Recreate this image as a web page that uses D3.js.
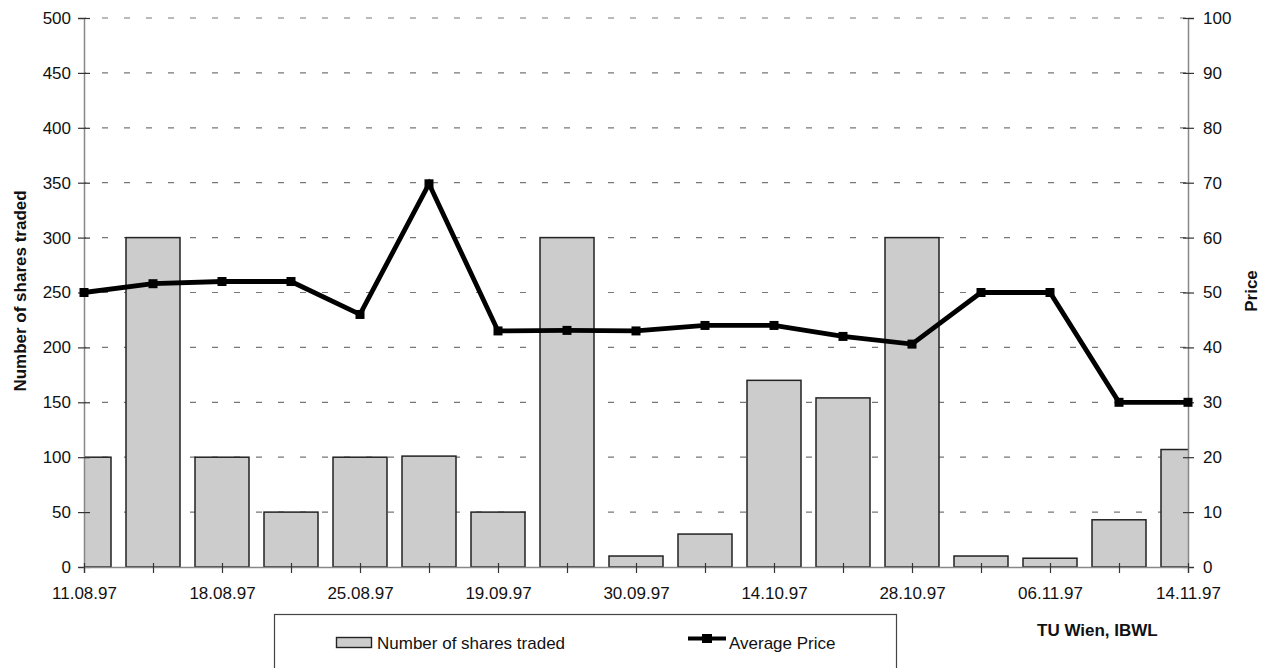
<!DOCTYPE html>
<html><head><meta charset="utf-8">
<script src="https://cdn.jsdelivr.net/npm/d3@7"></script>
<style>body{margin:0;background:#fff}svg{display:block;font-family:"Liberation Sans",Arial,sans-serif}</style>
</head><body><svg id="c" width="1268" height="668"></svg>
<script>
const categories = ["11.08.97","","18.08.97","","25.08.97","","19.09.97","","30.09.97","","14.10.97","","28.10.97","","06.11.97","","14.11.97"];
const shares = [100,300,100,50,100,101,50,300,10,30,170,154,300,10,8,43,107];
const price = [50,51.6,52,52,46,69.8,43,43.1,43,44,44,42,40.6,50,50,30,30];
const leftTicks = [0,50,100,150,200,250,300,350,400,450,500];
const rightTicks = [0,10,20,30,40,50,60,70,80,90,100];

const svg = d3.select("#c");
const L=84,R=1188,T=18,B=567;
const FS=17;
const x = d3.scalePoint().domain(d3.range(categories.length)).range([L,R]);
const yL = d3.scaleLinear().domain([0,500]).range([B,T]);
const yR = d3.scaleLinear().domain([0,100]).range([B,T]);
const bw = 54;

svg.append("defs").append("clipPath").attr("id","pc").append("rect")
  .attr("x",L).attr("y",T-5).attr("width",R-L).attr("height",B-T+5);

// gridlines
svg.append("g").selectAll("line").data(leftTicks.filter(d=>d>0)).join("line")
  .attr("x1",L+1).attr("x2",R-1).attr("y1",d=>yL(d)).attr("y2",d=>yL(d))
  .attr("stroke","#777").attr("stroke-width",1.2).attr("stroke-dasharray","6,16").attr("stroke-dashoffset",-17);

// bars
svg.append("g").attr("clip-path","url(#pc)").selectAll("rect").data(shares).join("rect")
  .attr("x",(d,i)=>x(i)-bw/2).attr("width",bw)
  .attr("y",d=>yL(d)).attr("height",d=>B-yL(d))
  .attr("fill","#cccccc").attr("stroke","#222").attr("stroke-width",1.5);

// axes
const axL = svg.append("g").attr("transform",`translate(${L},0)`).call(d3.axisLeft(yL).tickValues(leftTicks).tickSize(6).tickPadding(7));
const axR = svg.append("g").attr("transform",`translate(${R},0)`).call(d3.axisRight(yR).tickValues(rightTicks).tickSize(6).tickPadding(9));
const axB = svg.append("g").attr("transform",`translate(0,${B})`).call(d3.axisBottom(x).tickFormat(i=>categories[i]).tickSize(6).tickPadding(14));
[axL,axR,axB].forEach(a=>{
  a.select(".domain").attr("stroke","#888").attr("stroke-width",1.5);
  a.selectAll(".tick line").attr("stroke","#333").attr("stroke-width",1.2);
  a.selectAll(".tick text").attr("font-size",FS).attr("fill","#111").attr("font-family","Liberation Sans, Arial, sans-serif");
});
axL.selectAll(".tick line").attr("x2",-6).attr("x1",6);
axR.selectAll(".tick line").attr("x1",-5).attr("x2",6);
axB.selectAll(".tick line").attr("y1",-4).attr("y2",6);

// price line
const line = d3.line().x((d,i)=>x(i)).y(d=>yR(d));
svg.append("path").datum(price).attr("d",line).attr("fill","none").attr("stroke","#000").attr("stroke-width",4.8).attr("stroke-linejoin","miter");
svg.append("g").selectAll("rect").data(price).join("rect")
  .attr("x",(d,i)=>x(i)-4.5).attr("y",d=>yR(d)-4.5).attr("width",9).attr("height",9).attr("fill","#000");

// axis titles
svg.append("text").attr("transform",`translate(26,291) rotate(-90)`).attr("text-anchor","middle")
  .attr("font-size",FS).attr("font-weight","bold").attr("fill","#111").text("Number of shares traded");
svg.append("text").attr("transform",`translate(1257,291) rotate(-90)`).attr("text-anchor","middle")
  .attr("font-size",FS).attr("font-weight","bold").attr("fill","#111").text("Price");

// legend
svg.append("rect").attr("x",274.5).attr("y",614.5).attr("width",622).attr("height",70).attr("fill","none").attr("stroke","#444").attr("stroke-width",1.2);
svg.append("rect").attr("x",336.5).attr("y",637.5).attr("width",35).attr("height",10).attr("fill","#cccccc").attr("stroke","#222").attr("stroke-width",1.4);
svg.append("text").attr("x",377).attr("y",649).attr("font-size",FS).attr("fill","#111").text("Number of shares traded");
svg.append("line").attr("x1",688).attr("x2",726).attr("y1",638.5).attr("y2",638.5).attr("stroke","#000").attr("stroke-width",4);
svg.append("rect").attr("x",702).attr("y",634).attr("width",10).attr("height",9).attr("fill","#000");
svg.append("text").attr("x",729).attr("y",649).attr("font-size",FS).attr("fill","#111").text("Average Price");

svg.append("text").attr("x",1037).attr("y",636).attr("font-size",FS).attr("font-weight","bold").attr("fill","#111").text("TU Wien, IBWL");
</script></body></html>
